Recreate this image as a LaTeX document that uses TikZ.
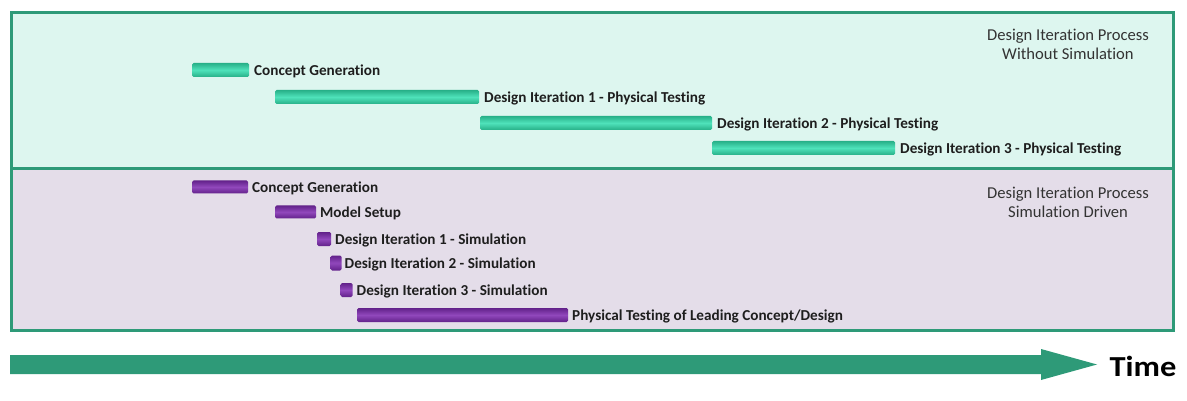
\documentclass[tikz,border=0pt]{standalone}
\usepackage{fontspec}
\setmainfont{Carlito}[Ligatures=NoCommon]
\definecolor{frameg}{HTML}{2E9A78}
\definecolor{mint}{HTML}{DDF6EF}
\definecolor{lav}{HTML}{E4DDE9}
\definecolor{gdark}{HTML}{27B088}
\definecolor{glight}{HTML}{4FE2BA}
\definecolor{pdark}{HTML}{62218A}
\definecolor{plight}{HTML}{9148BC}
\definecolor{txt}{HTML}{1E1E1E}
\definecolor{ttxt}{HTML}{333333}
\tikzset{
  gbar/.style={rectangle, inner sep=0pt, outer sep=0pt, rounded corners=1.5pt,
    top color=gdark, bottom color=gdark, middle color=glight, minimum height=14pt},
  pbar/.style={rectangle, inner sep=0pt, outer sep=0pt, rounded corners=1.5pt,
    top color=pdark, bottom color=pdark, middle color=plight, minimum height=13pt},
  lbl/.style={anchor=west, inner sep=0pt, xshift=5pt, yshift=-1pt, text=txt,
    font=\bfseries\fontsize{15.2}{18}\selectfont},
  ttl/.style={align=center, text=ttxt, inner sep=0pt,
    font=\fontsize{16.6}{19}\selectfont},
  panel/.style={draw=frameg, line width=3pt},
}
\begin{document}
\begin{tikzpicture}[x=1pt,y=-1pt]
\useasboundingbox (0,0) rectangle (1187,401);
\fill[white] (0,0) rectangle (1187,401);
% panels
\draw[panel, fill=mint] (11,13) rectangle (1173,169);
\draw[panel, fill=lav] (11,169) rectangle (1173,330);
% titles
\node[ttl] (t1) at (1068,44) {Design Iteration Process\\Without Simulation};
\node[ttl] (t2) at (1068,202) {Design Iteration Process\\Simulation Driven};
% top bars
\node[gbar, minimum width=57pt] (a1) at (220.5,70) {};
\node[lbl] (la1) at (a1.east) {Concept Generation};
\node[gbar, minimum width=204pt] (a2) at (377,97) {};
\node[lbl] (la2) at (a2.east) {Design Iteration 1 - Physical Testing};
\node[gbar, minimum width=232pt] (a3) at (596,123) {};
\node[lbl] (la3) at (a3.east) {Design Iteration 2 - Physical Testing};
\node[gbar, minimum width=183pt] (a4) at (803.5,148) {};
\node[lbl] (la4) at (a4.east) {Design Iteration 3 - Physical Testing};
% bottom bars
\node[pbar, minimum width=56pt] (b1) at (220,187) {};
\node[lbl, xshift=-1pt] (lb1) at (b1.east) {Concept Generation};
\node[pbar, minimum width=41pt] (b2) at (295.5,212) {};
\node[lbl, xshift=-1pt] (lb2) at (b2.east) {Model Setup};
\node[pbar, minimum width=14pt, minimum height=14pt] (b3) at (324,239) {};
\node[lbl, xshift=-1pt] (lb3) at (b3.east) {Design Iteration 1 - Simulation};
\node[pbar, minimum width=11pt, minimum height=15pt] (b4) at (336,263) {};
\node[lbl, xshift=-2pt] (lb4) at (b4.east) {Design Iteration 2 - Simulation};
\node[pbar, minimum width=12pt, minimum height=14pt] (b5) at (346.5,290) {};
\node[lbl, xshift=-1pt] (lb5) at (b5.east) {Design Iteration 3 - Simulation};
\node[pbar, minimum width=211pt, minimum height=14pt] (b6) at (462.5,315) {};
\node[lbl, xshift=-1pt] (lb6) at (b6.east) {Physical Testing of Leading Concept/Design};
% time arrow
\fill[frameg] (10,355) -- (1041,355) -- (1041,349) -- (1097,364.5) -- (1041,380) -- (1041,374) -- (10,374) -- cycle;
\node[inner sep=0pt, font=\bfseries\fontsize{29}{32}\selectfont, xscale=1.12] (time) at (1143,366) {Time};
\end{tikzpicture}
\end{document}
